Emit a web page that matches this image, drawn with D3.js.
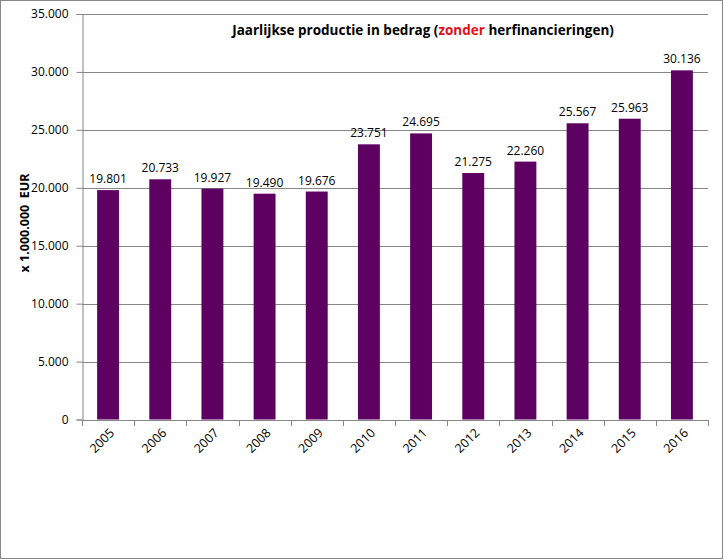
<!DOCTYPE html>
<html><head><meta charset="utf-8">
<script src="https://cdn.jsdelivr.net/npm/d3@7"></script>
<style>body{margin:0;background:#fff}svg{display:block}</style>
</head><body>
<script>
const years = ["2005","2006","2007","2008","2009","2010","2011","2012","2013","2014","2015","2016"];
const values = [19801,20733,19927,19490,19676,23751,24695,21275,22260,25567,25963,30136];
const yTicks = [0,5000,10000,15000,20000,25000,30000,35000];
const titleParts = [["Jaarlijkse productie in bedrag (","#000"],["zonder","#e0101a"],[" herfinancieringen)","#000"]];
const yTitle = "x 1.000.000  EUR";

const W=724,H=560;
const m={left:82,right:708,top:14,bottom:419.5};
const font="'Open Sans', sans-serif";
const svg=d3.select("body").append("svg").attr("width",W).attr("height",H);
svg.append("rect").attr("x",0.5).attr("y",0.5).attr("width",W-2).attr("height",H-2)
  .attr("fill","#fff").attr("stroke","#878787");

const x=d3.scaleBand().domain(years).range([m.left,m.right]).paddingInner(0.58).paddingOuter(0.29);
const y=d3.scaleLinear().domain([0,35000]).range([m.bottom,m.top]);
const fmt=v=>d3.format(",")(v).replace(/,/g,".");

// gridlines
svg.append("g").selectAll("line").data(yTicks.filter(d=>d>0)).join("line")
  .attr("x1",m.left).attr("x2",m.right).attr("y1",d=>Math.round(y(d))+0.5).attr("y2",d=>Math.round(y(d))+0.5)
  .attr("stroke","#868686").attr("stroke-width",1);

// y axis
const ya=svg.append("g").attr("transform",`translate(${m.left+0.5},0)`)
  .call(d3.axisLeft(y).tickValues(yTicks).tickFormat(fmt).tickSize(6).tickPadding(8));
ya.select(".domain").attr("stroke","#868686");
ya.selectAll(".tick line").attr("stroke","#868686");
ya.selectAll("text").attr("font-family",font).attr("font-size",12).attr("fill","#000");

// x axis
const xa=svg.append("g").attr("transform",`translate(0,${Math.round(m.bottom)+0.5})`)
  .call(d3.axisBottom(x).tickSize(0).tickFormat(d=>d));
xa.select(".domain").attr("stroke","#868686").attr("d",`M${m.left},0H${m.right}`);
xa.selectAll(".tick text").attr("font-family",font).attr("font-size",12.5).attr("fill","#000")
  .attr("text-anchor","end").attr("transform","translate(4,10) rotate(-45)").attr("dy","0.35em").attr("y",0);
// category tick marks at boundaries
svg.append("g").selectAll("line").data(d3.range(years.length+1)).join("line")
  .attr("x1",i=>Math.round(m.left+i*(m.right-m.left)/years.length)+0.5)
  .attr("x2",i=>Math.round(m.left+i*(m.right-m.left)/years.length)+0.5)
  .attr("y1",Math.round(m.bottom)).attr("y2",Math.round(m.bottom)+6).attr("stroke","#868686");

// bars
svg.append("g").selectAll("rect").data(years).join("rect")
  .attr("x",(d)=>x(d)).attr("width",x.bandwidth())
  .attr("y",(d,i)=>y(values[i])).attr("height",(d,i)=>y(0)-y(values[i]))
  .attr("fill","#5e0062");

// labels
svg.append("g").selectAll("text").data(years).join("text")
  .attr("x",d=>x(d)+x.bandwidth()/2).attr("y",(d,i)=>y(values[i])-7)
  .attr("text-anchor","middle").attr("font-family",font).attr("font-size",12).attr("fill","#000")
  .text((d,i)=>fmt(values[i]));

// title
const t=svg.append("text").attr("x",423).attr("y",35).attr("text-anchor","middle")
  .attr("font-family",font).attr("font-size",13.5).attr("font-weight","bold");
titleParts.forEach(p=>t.append("tspan").attr("fill",p[1]).text(p[0]));

// y title
svg.append("text").attr("transform","translate(29,223) rotate(-90)").attr("text-anchor","middle")
  .attr("font-family",font).attr("font-size",12.5).attr("font-weight","bold")
  .style("white-space","pre").text(yTitle);
</script>
</body></html>
